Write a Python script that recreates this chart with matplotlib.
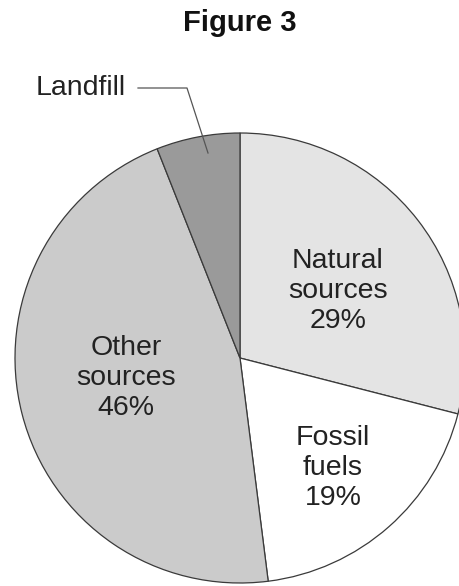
import matplotlib
import matplotlib.pyplot as plt

matplotlib.use("Agg")

plt.rcParams["font.family"] = ["Liberation Sans", "DejaVu Sans"]

labels = ["Natural\nsources\n29%", "Fossil\nfuels\n19%", "Other\nsources\n46%", "Landfill"]
shares = [29, 19, 46, 6]
colors = ["#e4e4e4", "#ffffff", "#cbcbcb", "#9a9a9a"]

W, H = 459, 586
fig = plt.figure(figsize=(W / 100, H / 100), dpi=100)
ax = fig.add_axes([0, 0, 1, 1])

# pie centre / radius in pixel coords (y measured from bottom)
cx, cy, r = 240, H - 358, 225
ax.pie(
    shares,
    colors=colors,
    startangle=90,
    counterclock=False,
    center=(cx, cy),
    radius=r,
    wedgeprops=dict(edgecolor="#3a3a3a", linewidth=0.9),
)
ax.set_xlim(0, W)
ax.set_ylim(0, H)
ax.axis("off")

ax.text(240, H - 23, "Figure 3", ha="center", va="center",
        fontsize=21, fontweight="bold", color="#111111")

label_pos = [(338, H - 291), (333, H - 468), (126, H - 378)]
for text, (x, y) in zip(labels[:3], label_pos):
    ax.text(x, y, text, ha="center", va="center", fontsize=20.5,
            color="#222222", linespacing=1.22)

ax.text(36, H - 88, labels[3], ha="left", va="center", fontsize=20.5, color="#222222")
ax.plot([138, 187, 208], [H - 88, H - 88, H - 153], color="#555555", linewidth=0.9)

fig.savefig("out.png", dpi=100)
